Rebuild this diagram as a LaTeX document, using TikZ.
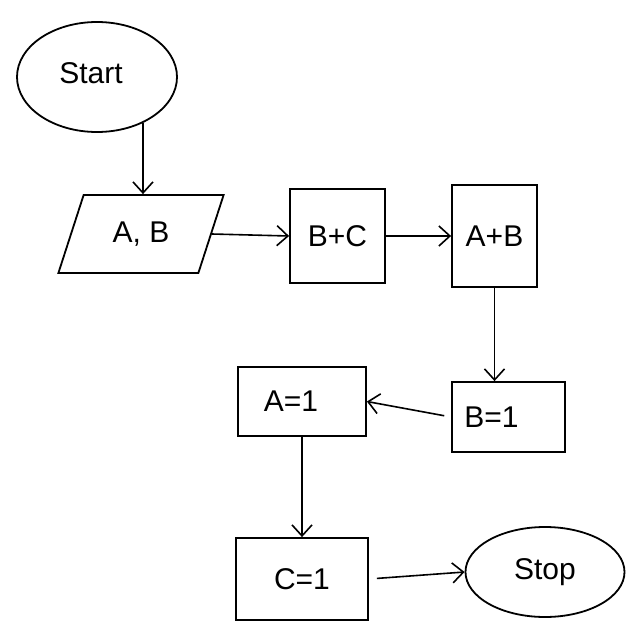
\documentclass[tikz,border=0pt]{standalone}
\usepackage{fontspec}
\setmainfont{Liberation Sans}
\usetikzlibrary{arrows.meta,shapes.geometric}
\tikzset{
  every node/.style={font=\fontsize{30}{34}\selectfont},
  stepbox/.style={draw, line width=1.8pt, rectangle, inner sep=0pt},
  term/.style={draw, line width=1.8pt, ellipse, inner sep=0pt},
  iobox/.style={draw, line width=1.8pt, trapezium, trapezium left angle=63, trapezium right angle=117, trapezium stretches=true, inner sep=0pt},
  arr/.style={line width=1.6pt, -{Straight Barb[length=11pt,width=20pt,line width=1.6pt]}}
}
\begin{document}
\begin{tikzpicture}[x=1pt,y=-1pt]
\useasboundingbox[fill=white] (0,0) rectangle (640,640);
\node[term, minimum width=160pt, minimum height=110pt] (start) at (97,77) {\raisebox{8pt}{Start}\hspace{12pt}\mbox{}};
\node[iobox, minimum width=166pt, minimum height=78pt] (ab) at (141,234) {A, B};
\node[stepbox, minimum width=95pt, minimum height=94pt] (bc) at (337.5,236) {B+C};
\node[stepbox, minimum width=85pt, minimum height=102pt] (apb) at (494.5,236) {A+B};
\node[stepbox, minimum width=113pt, minimum height=70pt] (b1) at (508.5,417) {B=1\hspace{34pt}\mbox{}};
\node[stepbox, minimum width=128pt, minimum height=69pt] (a1) at (302,401.5) {A=1\hspace{22pt}\mbox{}};
\node[stepbox, minimum width=132pt, minimum height=82pt] (c1) at (302,579) {C=1};
\node[term, minimum width=159pt, minimum height=90pt] (stop) at (545,572) {Stop};
\draw[arr] (start.-45) -- (start.-45 |- ab.north);
\draw[arr] (ab.east) -- (bc.west);
\draw[arr] (bc.east) -- (apb.west);
\draw[arr] (apb.south) -- (apb.south |- b1.north);
\draw[arr, shorten <=7pt] (b1.west) -- (a1.east);
\draw[arr] (a1.south) -- (c1.north);
\draw[arr, shorten <=8pt] (c1.east) -- (stop.west);
\end{tikzpicture}
\end{document}
